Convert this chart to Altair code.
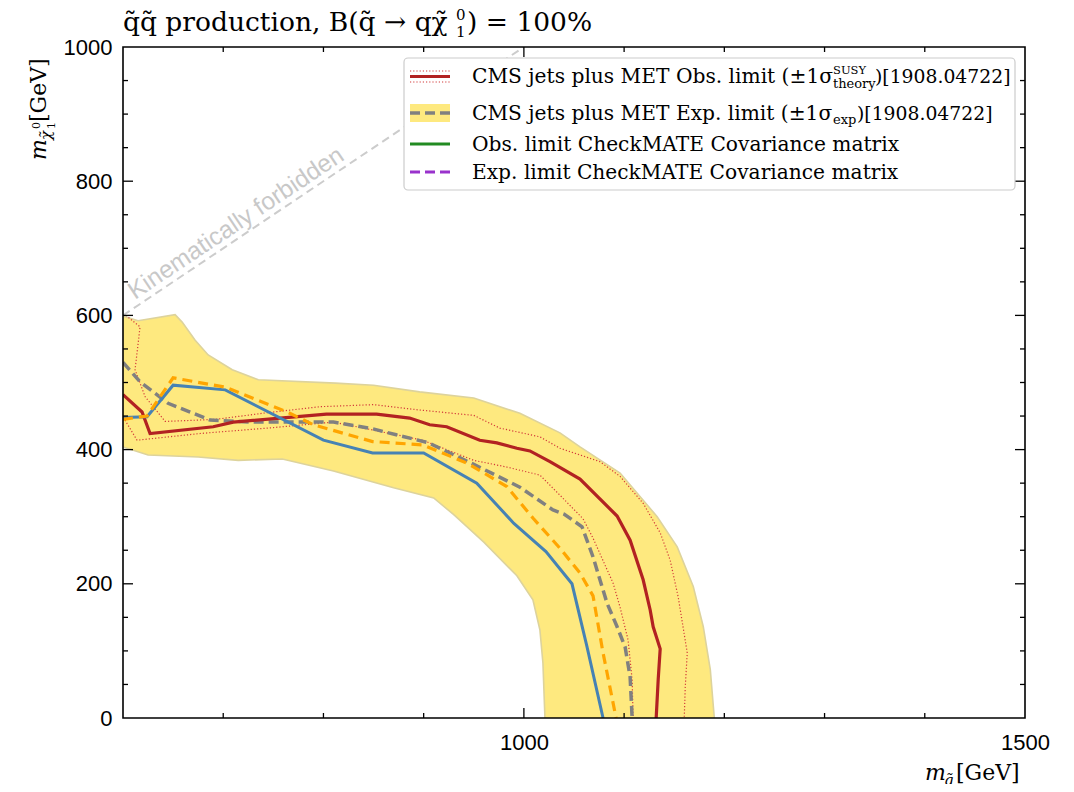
import altair as alt
import pandas as pd

# ---------------- data ----------------
# CMS observed limit
obs_x = [600, 619, 627, 690, 710, 803, 853, 886, 906, 923, 956, 973, 993, 1006, 1026, 1056, 1093, 1106, 1119, 1126, 1129, 1136, 1134, 1132]
obs_y = [482, 456, 424, 434, 441, 453, 453, 447, 437, 434, 414, 410, 402, 398, 382, 356, 301, 265, 206, 161, 136, 103, 57, 0]
# CMS observed +1 sigma theory
obs_up_x = [603, 617, 614, 612, 622, 642, 692, 744, 797, 850, 896, 950, 976, 1016, 1036, 1076, 1096, 1119, 1136, 1146, 1154, 1163, 1161, 1160]
obs_up_y = [600, 583, 544, 519, 479, 442, 445, 455, 464, 467, 459, 451, 432, 419, 402, 382, 360, 320, 276, 235, 180, 97, 46, 0]
# CMS observed -1 sigma theory
obs_dn_x = [602, 614, 677, 744, 810, 850, 899, 950, 983, 1016, 1036, 1059, 1069, 1089, 1096, 1104, 1108, 1109]
obs_dn_y = [444, 414, 424, 432, 441, 429, 414, 384, 374, 362, 332, 297, 268, 201, 165, 116, 57, 0]
# CMS expected limit
exp_x = [600, 617, 645, 687, 725, 810, 849, 905, 950, 996, 1029, 1040, 1058, 1069, 1083, 1093, 1101, 1106, 1108]
exp_y = [530, 501, 469, 444, 441, 441, 431, 410, 378, 344, 310, 304, 285, 240, 171, 136, 106, 61, 0]
# +-1 sigma exp band: outer and inner edges
band_out_x = [600, 615, 652, 659, 672, 685, 709, 735, 812, 850, 896, 950, 996, 1036, 1056, 1096, 1133, 1153, 1169, 1179, 1186, 1190]
band_out_y = [599, 592, 601, 590, 563, 541, 519, 504, 499, 496, 486, 477, 454, 425, 404, 365, 300, 255, 196, 136, 72, 0]
band_in_x = [600, 625, 675, 715, 759, 810, 870, 910, 930, 960, 993, 1009, 1016, 1019, 1021]
band_in_y = [404, 392, 389, 384, 386, 368, 343, 328, 303, 262, 212, 176, 131, 82, 0]
# CheckMATE observed (blue) and expected (orange)
cm_obs_x = [600, 624, 650, 702, 800, 849, 900, 953, 990, 1022, 1048, 1063, 1079]
cm_obs_y = [448, 449, 496, 489, 414, 395, 395, 350, 290, 248, 200, 106, 0]
cm_exp_x = [600, 624, 650, 702, 764, 790, 849, 899, 943, 983, 1009, 1036, 1056, 1069, 1079, 1092]
cm_exp_y = [445, 450, 507, 493, 456, 437, 412, 407, 380, 345, 298, 253, 216, 182, 97, 0]
# kinematic boundary
kin_x = [600, 1000]
kin_y = [600, 1000]

x_labels = [1000, 1500]
y_labels = [0, 200, 400, 600, 800, 1000]
x_major = [1000]
x_minor = [700, 800, 900, 1100, 1200, 1300, 1400]
y_major = [200, 400, 600, 800]
y_minor = [50, 100, 150, 250, 300, 350, 450, 500, 550, 650, 700, 750, 850, 900, 950]

title_main = "q̃q̃ production, B(q̃ → qχ̃"
legend_1 = "CMS jets plus MET Obs. limit (±1σ"
legend_2 = "CMS jets plus MET Exp. limit (±1σ"
legend_3 = "Obs. limit CheckMATE Covariance matrix"
legend_4 = "Exp. limit CheckMATE Covariance matrix"
arxiv = ")[1908.04722]"

# ---------------- chart ----------------
W, H = 902, 671
OX, OY = 123, 47  # page position of the plot origin
SERIF = "DejaVu Serif"
SANS = "Liberation Sans"
LF = 20.2  # legend font size
AF = 18.8  # arXiv reference font size

xs = alt.Scale(domain=[600, 1500], nice=False, zero=False)
ys = alt.Scale(domain=[0, 1000], nice=False, zero=False)
X_AX = alt.Axis(values=x_labels, format="d", title=None, tickSize=0, domain=False, grid=False,
                labelFont=SANS, labelFontSize=22, labelColor="black", labelPadding=14,
                labelFlush=False)
Y_AX = alt.Axis(values=y_labels, format="d", title=None, tickSize=0, domain=False, grid=False,
                labelFont=SANS, labelFontSize=22, labelColor="black", labelPadding=11)


def X(f):
    return alt.X(f, scale=xs, axis=X_AX)


def Y(f):
    return alt.Y(f, scale=ys, axis=Y_AX)


def df(xv, yv):
    return pd.DataFrame({"x": xv, "y": yv, "o": list(range(len(xv)))})


def line(xv, yv, color, width, dash=None):
    kw = dict(color=color, strokeWidth=width, clip=True)
    if dash:
        kw["strokeDash"] = dash
    return alt.Chart(df(xv, yv)).mark_line(**kw).encode(x=X("x:Q"), y=Y("y:Q"), order="o:Q")


def area(xv, yv, color):
    return alt.Chart(df(xv, yv)).mark_area(color=color, opacity=1, clip=True).encode(
        x=X("x:Q"), y=Y("y:Q"))


ONE = pd.DataFrame({"a": [0]})


def text_at(px, py, txt, size, font=SERIF, style="normal", align="left", angle=0, color="black"):
    kw = dict(text=txt, font=font, fontSize=size, fontStyle=style, align=align,
              baseline="alphabetic", color=color)
    if angle:
        kw["angle"] = angle
    return alt.Chart(ONE).mark_text(**kw).encode(x=alt.value(px - OX), y=alt.value(py - OY))


def hrule(px1, px2, py, color, width, dash=None):
    kw = dict(color=color, strokeWidth=width)
    if dash:
        kw["strokeDash"] = dash
    return alt.Chart(ONE).mark_rule(**kw).encode(
        x=alt.value(px1 - OX), x2=alt.value(px2 - OX), y=alt.value(py - OY))


layers = []
# band
layers.append(area(band_out_x, band_out_y, "#fee97f"))
layers.append(area(band_in_x, band_in_y, "white"))
layers.append(line(band_out_x, band_out_y, "#ddd39c", 1.6))
layers.append(line(band_in_x, band_in_y, "#ddd39c", 1.6))
# kinematic line + label
layers.append(line(kin_x, kin_y, "#cccccc", 2, [8, 5]))
layers.append(alt.Chart(ONE).mark_text(text="Kinematically forbidden", font=SANS, fontSize=24.5,
                                       angle=326.2, color="#c8c8c8", align="center",
                                       baseline="alphabetic").encode(
    x=alt.datum(717, scale=xs), y=alt.datum(728, scale=ys)))
# curves
layers.append(line(obs_up_x, obs_up_y, "#d23a3a", 1.2, [1.2, 2]))
layers.append(line(obs_dn_x, obs_dn_y, "#d23a3a", 1.2, [1.2, 2]))
layers.append(line(exp_x, exp_y, "#808080", 3.5, [10, 5]))
layers.append(line(obs_x, obs_y, "#b22222", 3.2))
layers.append(line(cm_obs_x, cm_obs_y, "#4682b4", 3))
layers.append(line(cm_exp_x, cm_exp_y, "#ffa500", 3.2, [10, 6]))


# inner ticks on all four sides
def ticks_x(vals, ln):
    d = pd.DataFrame({"x": vals})
    b = alt.Chart(d).mark_rule(color="black", strokeWidth=1.3)
    return [b.encode(x=X("x:Q"), y=alt.value(H), y2=alt.value(H - ln)),
            b.encode(x=X("x:Q"), y=alt.value(0), y2=alt.value(ln))]


def ticks_y(vals, ln):
    d = pd.DataFrame({"y": vals})
    b = alt.Chart(d).mark_rule(color="black", strokeWidth=1.3)
    return [b.encode(y=Y("y:Q"), x=alt.value(0), x2=alt.value(ln)),
            b.encode(y=Y("y:Q"), x=alt.value(W), x2=alt.value(W - ln))]


layers += ticks_x(x_major, 10) + ticks_x(x_minor, 5) + ticks_y(y_major, 10) + ticks_y(y_minor, 5)
# frame
layers.append(alt.Chart(ONE).mark_rect(fill=None, stroke="black", strokeWidth=1.6).encode(
    x=alt.value(0), x2=alt.value(W), y=alt.value(0), y2=alt.value(H)))

# legend box
layers.append(alt.Chart(ONE).mark_rect(fill="white", stroke="#cccccc", strokeWidth=1.2,
                                       cornerRadius=4).encode(
    x=alt.value(404 - OX), x2=alt.value(1015 - OX), y=alt.value(58 - OY), y2=alt.value(190 - OY)))
# legend symbols
layers.append(hrule(410, 450, 71, "#d23a3a", 1.2, [1.2, 2]))
layers.append(hrule(410, 450, 82, "#d23a3a", 1.2, [1.2, 2]))
layers.append(hrule(410, 450, 76.5, "#b22222", 3.2))
layers.append(alt.Chart(ONE).mark_rect(fill="#fee97f").encode(
    x=alt.value(410 - OX), x2=alt.value(450 - OX), y=alt.value(104 - OY), y2=alt.value(122 - OY)))
layers.append(hrule(410, 450, 113, "#808080", 3.5, [10, 5]))
layers.append(hrule(410, 450, 144, "#228b22", 3.2))
layers.append(hrule(410, 450, 172, "#9932cc", 3.2, [10, 5]))
# legend texts
layers.append(text_at(472, 83, legend_1, LF))
layers.append(text_at(833, 74, "SUSY", 11.5))
layers.append(text_at(833, 88, "theory", 13))
layers.append(text_at(875, 83, arxiv, AF))
layers.append(text_at(472, 120, legend_2, LF))
layers.append(text_at(833, 124, "exp", 13))
layers.append(text_at(857, 120, arxiv, AF))
layers.append(text_at(472, 151, legend_3, LF))
layers.append(text_at(472, 179, legend_4, LF))

# title
layers.append(text_at(123, 31, title_main, 26.5))
layers.append(text_at(456, 20, "0", 15))
layers.append(text_at(456, 37, "1", 15))
layers.append(text_at(467, 31, ") = 100%", 26.5))

# x axis title
layers.append(text_at(925, 780, "m", 22, style="italic"))
layers.append(text_at(944, 785, "q̃", 15, style="italic"))
layers.append(text_at(956, 780, "[GeV]", 22))

# y axis title (rotated)
layers.append(text_at(46, 160, "m", 22, style="italic", angle=270))
layers.append(text_at(51, 140, "χ̃", 15, style="italic", angle=270))
layers.append(text_at(40, 129, "0", 11, angle=270))
layers.append(text_at(55, 129, "1", 11, angle=270))
layers.append(text_at(46, 122, "[GeV]", 22, angle=270))

chart = alt.layer(*layers).properties(
    width=W, height=H,
    autosize=alt.AutoSizeParams(type="none"),
    padding={"left": 115, "top": 39, "right": 41, "bottom": 66},
    background="white",
).configure_view(stroke=None)

chart.save("out.html", embed_options={"renderer": "svg", "actions": False})
